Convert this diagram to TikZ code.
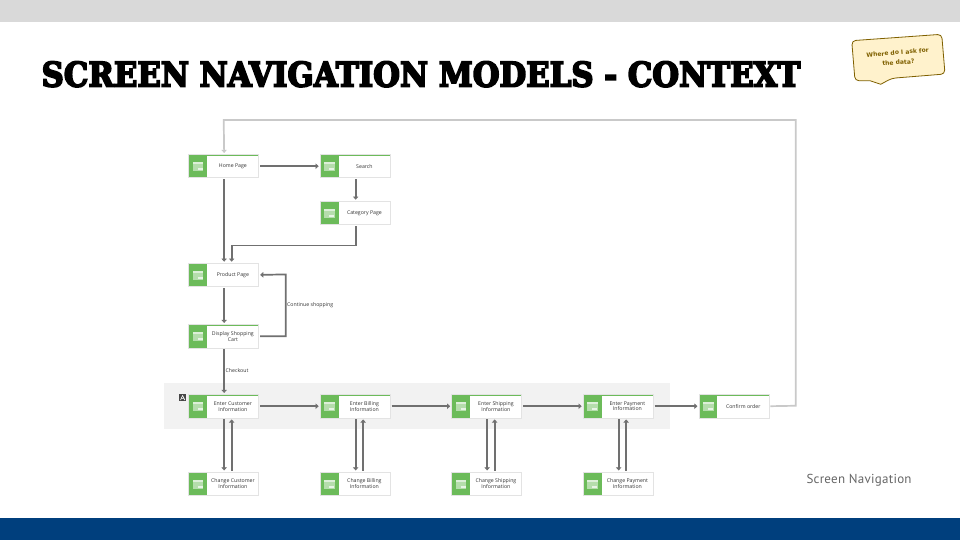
\documentclass[tikz,border=0pt]{standalone}
\usepackage{fontspec}
\setmainfont{Open Sans}
\newfontfamily\titlefont[FakeBold=5]{DejaVu Serif Condensed Bold}
\newfontfamily\footfont{PT Sans}
\newfontfamily\callfont{DejaVu Sans}
\usetikzlibrary{arrows.meta,calc}
\definecolor{scrgreen}{HTML}{6CBB5A}
\definecolor{edgegray}{HTML}{707070}
\definecolor{retgray}{HTML}{C9C9C9}
\definecolor{bandgray}{HTML}{F2F2F2}
\definecolor{navy}{HTML}{003F7D}
\definecolor{topgray}{HTML}{D9D9D9}
\definecolor{callfill}{HTML}{FFF2CC}
\definecolor{callline}{HTML}{7F6000}
\tikzset{
  x=1pt,y=-1pt,
  screenbox/.style={draw=black!11,line width=.9pt,fill=white,minimum width=70pt,minimum height=23.5pt,inner sep=0pt,anchor=north west,font=\fontsize{5.2}{5.9}\selectfont,text=black!80,
    path picture={
      \fill[scrgreen] (path picture bounding box.north west) rectangle ([xshift=18.5pt]path picture bounding box.south west);
      \fill[scrgreen] (path picture bounding box.north west) rectangle ([yshift=-1.1pt]path picture bounding box.north east);
      \fill[white,opacity=.5] ([xshift=4.3pt,yshift=-7.7pt]path picture bounding box.north west) rectangle ([xshift=14.7pt,yshift=-17pt]path picture bounding box.north west);
      \fill[white,opacity=.55] ([xshift=4.3pt,yshift=-7.7pt]path picture bounding box.north west) rectangle ([xshift=14.7pt,yshift=-9.6pt]path picture bounding box.north west);
      \fill[white,opacity=.7] ([xshift=9pt,yshift=-13.6pt]path picture bounding box.north west) rectangle ([xshift=14pt,yshift=-15.8pt]path picture bounding box.north west);
    }},
  flow/.style={draw=edgegray,line width=1.7pt,-{Triangle[length=3.2pt,width=5.4pt]}},
  flowret/.style={draw=retgray,line width=1.7pt,-{Triangle[length=3.2pt,width=5.4pt]}},
  edgelabel/.style={font=\fontsize{5.2}{6}\selectfont,text=black!80,inner sep=0pt,anchor=west},
}
\newcommand{\scrtext}[1]{\hspace*{18.5pt}\parbox[c]{51.5pt}{\centering #1}}
\begin{document}
\begin{tikzpicture}
\useasboundingbox (0,0) rectangle (960,540);
\fill[white] (0,0) rectangle (960,540);
\fill[topgray] (0,0) rectangle (960,22);
\fill[navy] (0,518) rectangle (960,540);
\node[anchor=base west,inner sep=0pt,font=\titlefont\fontsize{34}{35}\selectfont,text=black] (title) at (41.5,86.6) {\addfontfeature{LetterSpace=0.45}SCREEN NAVIGATION MODELS - CONTEXT};
% band
\fill[bandgray] (164,383) rectangle (670,429);
\fill[black!72] (179,394) rectangle (186.3,401);
\draw[white,line width=.6pt] (180.5,400) -- (182.6,395.5) -- (184.8,400) (181.3,398.4) -- (184,398.4);
% boxes
\node[screenbox] (home) at (188.2,154) {\scrtext{Home Page}};
\node[screenbox] (search) at (319.7,154) {\scrtext{Search}};
\node[screenbox] (cat) at (319.7,200.7) {\scrtext{Category Page}};
\node[screenbox] (prod) at (188.2,262.7) {\scrtext{Product Page}};
\node[screenbox] (cart) at (188.2,324) {\scrtext{Display Shopping\\Cart}};
\node[screenbox] (cust) at (188.2,394) {\scrtext{Enter Customer\\Information}};
\node[screenbox] (bill) at (319.7,394) {\scrtext{Enter Billing\\Information}};
\node[screenbox] (ship) at (451.2,394) {\scrtext{Enter Shipping\\Information}};
\node[screenbox] (pay) at (582.7,394) {\scrtext{Enter Payment\\Information}};
\node[screenbox] (conf) at (698.5,394) {\scrtext{Confirm order}};
\node[screenbox] (ccust) at (188.2,471.5) {\scrtext{Change Customer\\Information}};
\node[screenbox] (cbill) at (319.7,471.5) {\scrtext{Change Billing\\Information}};
\node[screenbox] (cship) at (451.2,471.5) {\scrtext{Change Shipping\\Information}};
\node[screenbox] (cpay) at (582.7,471.5) {\scrtext{Change Payment\\Information}};
% connectors
\draw[flow] ([xshift=1pt]home.east) -- ([xshift=-1pt]search.west);
\draw[flow] ([xshift=.5pt,yshift=-1pt]search.south) -- ([xshift=.5pt,yshift=1pt]cat.north);
\draw[flow] ([xshift=.5pt,yshift=-1pt]home.south) -- ([xshift=.5pt,yshift=1pt]prod.north);
\draw[flow] ([xshift=.5pt,yshift=-1pt]cat.south) -- ++(0,19.3) -| ([xshift=8pt,yshift=1pt]prod.north);
\draw[flow] ([xshift=.5pt,yshift=-1pt]prod.south) -- ([xshift=.5pt,yshift=1pt]cart.north);
\draw[flow] ([xshift=1pt]cart.east) -| (285.7,274.4) -- ([xshift=1pt]prod.east);
\draw[flow] ([xshift=.5pt,yshift=-1pt]cart.south) -- ([xshift=.5pt,yshift=1pt]cust.north);
\draw[flow] ([xshift=1pt]cust.east) -- ([xshift=-1pt]bill.west);
\draw[flow] ([xshift=1pt]bill.east) -- ([xshift=-1pt]ship.west);
\draw[flow] ([xshift=1pt]ship.east) -- ([xshift=-1pt]pay.west);
\draw[flow] ([xshift=1pt]pay.east) -- ([xshift=-1pt]conf.west);
\foreach \u/\l in {cust/ccust,bill/cbill,ship/cship,pay/cpay}{
  \draw[flow] ([xshift=.5pt,yshift=-1pt]\u.south) -- ([xshift=.5pt,yshift=1pt]\l.north);
  \draw[flow] ([xshift=8pt,yshift=1pt]\l.north) -- ([xshift=8pt,yshift=-1pt]\u.south);
}
\draw[flowret] ([xshift=1pt]conf.east) -- (795.7,405.75) -- (795.7,120) -- (223.7,120) -- ([xshift=.5pt,yshift=1pt]home.north);
% labels
\node[edgelabel] (lcont) at (287,305.5) {Continue shopping};
\node[edgelabel] (lcheck) at (225.5,371) {Checkout};
\node[anchor=west,inner sep=0pt,font=\footfont\fontsize{13}{14}\selectfont,text=black!60] (cap) at (806.3,480.3) {\addfontfeature{LetterSpace=2}Screen Navigation};
% callout
\draw[fill=callfill,draw=callline,line width=.8pt,rounded corners=4pt] (851.7,40.7) -- (941.7,34.3) -- (945,74) -- (891.7,78.3) [sharp corners] -- (880.7,84.3) -- (870,80.7) [rounded corners=4pt] -- (855,80.8) -- cycle;
\node[rotate=4.5,align=center,font=\callfont\bfseries\fontsize{6}{10}\selectfont,text=callline,inner sep=0pt] (callt) at (898,57.5) {Where do I ask for\\the data?};
\end{tikzpicture}
\end{document}
